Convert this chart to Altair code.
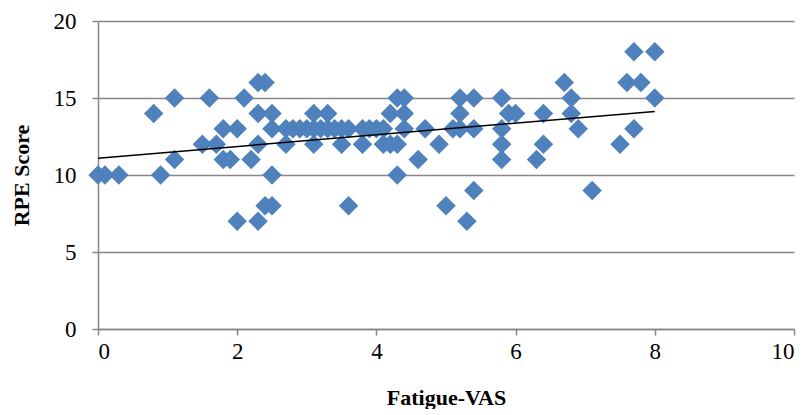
import altair as alt
import pandas as pd

fatigue = [0.0, 0.1, 0.3, 0.8, 0.9, 1.1, 1.1, 1.5, 1.6, 1.7, 1.8, 1.8, 1.9, 2.0, 2.0, 2.1, 2.2,
           2.3, 2.4, 2.3, 2.3, 2.3, 2.4, 2.5, 2.5, 2.5, 2.5, 2.7, 2.7, 2.8, 2.9, 3.0,
           3.1, 3.1, 3.1, 3.2, 3.3, 3.3, 3.4, 3.5, 3.5, 3.6, 3.6, 3.8, 3.8, 3.9, 4.0,
           4.1, 4.1, 4.2, 4.2, 4.3, 4.4, 4.3, 4.3, 4.4, 4.4, 4.6, 4.7, 4.9, 5.0, 5.1,
           5.2, 5.2, 5.2, 5.3, 5.4, 5.4, 5.4, 5.8, 5.8, 5.8, 5.8, 5.9, 6.0, 6.3, 6.4,
           6.4, 6.7, 6.8, 6.8, 6.9, 7.1, 7.5, 7.6, 7.7, 7.7, 7.8, 8.0, 8.0]
rpe = [10, 10, 10, 14, 10, 15, 11, 12, 15, 12, 13, 11, 11, 13, 7, 15, 11,
       16, 16, 14, 12, 7, 8, 8, 14, 13, 10, 13, 12, 13, 13, 13,
       14, 13, 12, 13, 14, 13, 13, 13, 12, 13, 8, 13, 12, 13, 13,
       12, 13, 14, 12, 15, 15, 12, 10, 14, 13, 11, 13, 12, 8, 13,
       15, 14, 13, 7, 15, 13, 9, 15, 13, 12, 11, 14, 14, 11, 14,
       12, 16, 15, 14, 13, 9, 12, 16, 18, 13, 16, 18, 15]

df = pd.DataFrame({"Fatigue-VAS": fatigue, "RPE Score": rpe})

FONT = "Liberation Serif"

base = alt.Chart(df)

points = base.mark_point(shape="diamond", filled=True, size=380, color="#4F81BD", opacity=1).encode(
    x=alt.X("Fatigue-VAS:Q", scale=alt.Scale(domain=[0, 10], nice=False),
            axis=alt.Axis(values=[0, 2, 4, 6, 8, 10], format="d", grid=False, title="Fatigue-VAS")),
    y=alt.Y("RPE Score:Q", scale=alt.Scale(domain=[0, 20], nice=False),
            axis=alt.Axis(values=[0, 5, 10, 15, 20], format="d", grid=True, title="RPE Score")),
)

trend = base.transform_regression("Fatigue-VAS", "RPE Score", extent=[0, 8]).mark_line(
    color="black", strokeWidth=1.5
).encode(x="Fatigue-VAS:Q", y="RPE Score:Q")

chart = alt.layer(points, trend).properties(
    width=696, height=308,
    autosize=alt.AutoSizeParams(type="none"),
    padding={"left": 90, "top": 13, "right": 6, "bottom": 80},
).configure_view(stroke=None).configure_axis(
    labelFont=FONT, labelFontSize=23, labelColor="black",
    titleFont=FONT, titleFontSize=22, titleFontWeight="bold", titleColor="black",
    domainColor="#868686", domainWidth=1.5, tickColor="#868686", tickWidth=1.5, tickSize=6,
    gridColor="#868686", gridWidth=1.5,
).configure_axisX(labelPadding=5, titlePadding=24).configure_axisY(labelPadding=16, titlePadding=20)

chart.save("out.html", embed_options={"renderer": "svg", "actions": False})
